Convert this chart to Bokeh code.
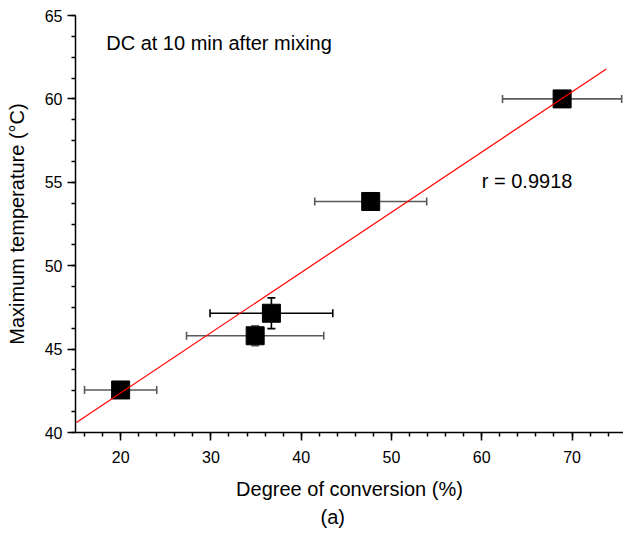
from bokeh.plotting import figure
from bokeh.models import ColumnDataSource, SingleIntervalTicker, Label, Range1d, Title
from bokeh.embed import file_html
from bokeh.resources import INLINE
import math

# Data
conv = [20.0, 34.9, 36.7, 47.7, 68.9]          # degree of conversion (%)
temp = [42.55, 45.8, 47.15, 53.85, 60.0]       # maximum temperature (C)
conv_err = [4.0, 7.6, 6.8, 6.2, 6.6]
temp_err = [0.25, 0.6, 0.92, 0.1, 0.1]
fit_x = [15.1, 73.8]
fit_y = [40.6, 61.8]
bar_colors = ["#5a5a5a", "#5a5a5a", "#000000", "#5a5a5a", "#5a5a5a"]

FONT = "Liberation Sans"

p = figure(width=623, height=528, output_backend="svg", toolbar_location=None,
           x_range=Range1d(15, 75.7), y_range=Range1d(40, 65),
           min_border_left=75, min_border_right=0, min_border_top=15, min_border_bottom=93)
p.outline_line_color = None
p.xgrid.visible = False
p.ygrid.visible = False
p.background_fill_color = "white"
p.border_fill_color = "white"

src = ColumnDataSource(dict(
    x=conv, y=temp,
    xl=[a - e for a, e in zip(conv, conv_err)],
    xr=[a + e for a, e in zip(conv, conv_err)],
    yl=[a - e for a, e in zip(temp, temp_err)],
    yu=[a + e for a, e in zip(temp, temp_err)],
    c=bar_colors,
))

# horizontal error bars
p.segment(x0="xl", y0="y", x1="xr", y1="y", source=src, line_color="c", line_width=1.6)
p.scatter(x="xl", y="y", marker="dash", angle=math.pi / 2, size=8, source=src, line_color="c", line_width=1.6)
p.scatter(x="xr", y="y", marker="dash", angle=math.pi / 2, size=8, source=src, line_color="c", line_width=1.6)
# vertical error bars
p.segment(x0="x", y0="yl", x1="x", y1="yu", source=src, line_color="c", line_width=1.6)
p.scatter(x="x", y="yl", marker="dash", size=8, source=src, line_color="c", line_width=1.6)
p.scatter(x="x", y="yu", marker="dash", size=8, source=src, line_color="c", line_width=1.6)

# markers
p.scatter(x="x", y="y", marker="square", size=18, source=src, fill_color="black", line_color="black")

# fit line
p.line(fit_x, fit_y, line_color="red", line_width=1.2)

p.add_layout(Label(x=18.4, y=63.34, text="DC at 10 min after mixing", text_font=FONT,
                   text_font_size="20px", text_color="black", text_baseline="alphabetic"))
p.add_layout(Label(x=60.0, y=55.1, text="r = 0.9918", text_font=FONT,
                   text_font_size="20px", text_color="black", text_baseline="alphabetic"))

for ax in (p.xaxis[0], p.yaxis[0]):
    ax.axis_line_width = 1.5
    ax.axis_line_color = "black"
    ax.major_tick_line_width = 1.5
    ax.minor_tick_line_width = 1.5
    ax.major_tick_line_color = "black"
    ax.minor_tick_line_color = "black"
    ax.major_tick_in = 0
    ax.major_tick_out = 8
    ax.minor_tick_in = 0
    ax.minor_tick_out = 4
    ax.major_label_text_font = FONT
    ax.major_label_text_font_size = "16px"
    ax.major_label_text_color = "black"
    ax.axis_label_text_font = FONT
    ax.axis_label_text_font_size = "20px"
    ax.axis_label_text_font_style = "normal"
    ax.axis_label_text_color = "black"

p.xaxis.ticker = SingleIntervalTicker(interval=10, num_minor_ticks=5)
p.yaxis.ticker = SingleIntervalTicker(interval=5, num_minor_ticks=4)
p.xaxis.axis_label = "Degree of conversion (%)"
p.yaxis.axis_label = "Maximum temperature (°C)"
p.xaxis.major_label_standoff = 10
p.yaxis.major_label_standoff = 5
p.xaxis.axis_label_standoff = 12
p.yaxis.axis_label_standoff = 14

p.add_layout(Title(text="(a)", align="left", offset=245, standoff=2, text_font=FONT,
                   text_font_size="20px", text_font_style="normal", text_color="black"), "below")

open("out.html", "w").write(file_html(p, INLINE))
